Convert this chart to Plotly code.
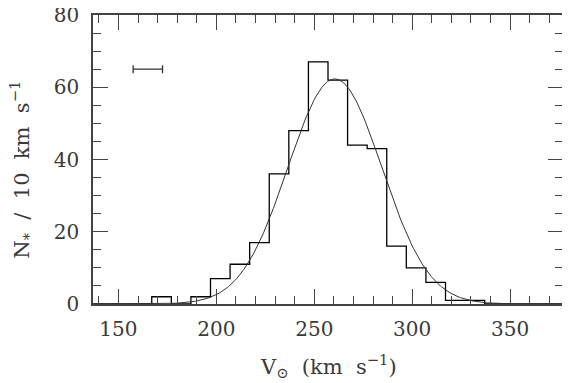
import numpy as np
import plotly.graph_objects as go

# Histogram data (10 km/s bins)
bin_left_edges = [167, 177, 187, 197, 207, 217, 227, 237, 247, 257, 267, 277, 287, 297, 307, 317, 327]
counts = [2, 0, 2, 7, 11, 17, 36, 48, 67, 62, 44, 43, 16, 10, 6, 1, 1]
bin_width = 10

# Gaussian fit parameters
fit_mean = 260.5
fit_sigma = 24.0
fit_amp = 62.3

# Error bar (typical velocity uncertainty)
err_x = 165
err_y = 65
err_half = 7.5

x_range = [137, 377]
y_range = [0, 80]
x_ticks = [150, 200, 250, 300, 350]
y_ticks = [0, 20, 40, 60, 80]

font_family = "DejaVu Serif"
txt_color = "#3a3a3a"

fig = go.Figure()

# step histogram
sx = [x_range[0], bin_left_edges[0]] + bin_left_edges[1:] + [bin_left_edges[-1] + bin_width, x_range[1]]
sy = [0] + counts + [0, 0]
fig.add_trace(go.Scatter(x=sx, y=sy, mode="lines", line=dict(shape="hv", color="black", width=1.3),
                         hoverinfo="skip", showlegend=False))

# gaussian curve
gx = np.linspace(x_range[0], x_range[1], 400)
gy = fit_amp * np.exp(-0.5 * ((gx - fit_mean) / fit_sigma) ** 2)
fig.add_trace(go.Scatter(x=gx, y=gy, mode="lines", line=dict(color="#333333", width=1),
                         hoverinfo="skip", showlegend=False))

# error bar
fig.add_trace(go.Scatter(x=[err_x], y=[err_y], mode="markers",
                         marker=dict(size=1, color="rgba(0,0,0,0)"),
                         error_x=dict(type="constant", value=err_half, color="#333333", thickness=1.3, width=4),
                         hoverinfo="skip", showlegend=False))

axis_common = dict(
    showline=True, linecolor="#444444", linewidth=1.5, mirror="ticks",
    ticks="inside", ticklen=15, tickwidth=1.2, tickcolor="#444444",
    showgrid=False, zeroline=False, automargin=False, ticklabeloverflow="allow",
    tickfont=dict(family=font_family, size=20, color=txt_color),
)

fig.update_xaxes(range=x_range, tickvals=x_ticks, ticklabelstandoff=6, **axis_common,
                 minor=dict(ticks="inside", ticklen=8, dtick=10, tick0=0, tickcolor="#444444", tickwidth=1.2, showgrid=False))
fig.update_yaxes(range=y_range, tickvals=y_ticks, ticklabelstandoff=8, **axis_common,
                 minor=dict(ticks="inside", ticklen=8, dtick=5, tick0=0, tickcolor="#444444", tickwidth=1.2, showgrid=False))

# axis titles as annotations for precise placement
fig.add_annotation(text="V<sub>⊙</sub>  (km  s<sup>−1</sup>)", xref="paper", yref="paper",
                   x=0.5, y=-0.215, xanchor="center", yanchor="middle", showarrow=False,
                   font=dict(family=font_family, size=21, color=txt_color))
fig.add_annotation(text="N<sub>*</sub>  /  10  km  s<sup>−1</sup>", xref="paper", yref="paper",
                   x=-0.153, y=0.465, xanchor="center", yanchor="middle", showarrow=False, textangle=-90,
                   font=dict(family=font_family, size=21, color=txt_color))

# page body has an 8px margin, so the figure is sized to fit the 570x383 window
fig.update_layout(
    width=562, height=375,
    margin=dict(l=85, r=7, t=7, b=79),
    plot_bgcolor="white", paper_bgcolor="white",
    font=dict(family=font_family, color=txt_color),
)

fig.write_html("out.html")
